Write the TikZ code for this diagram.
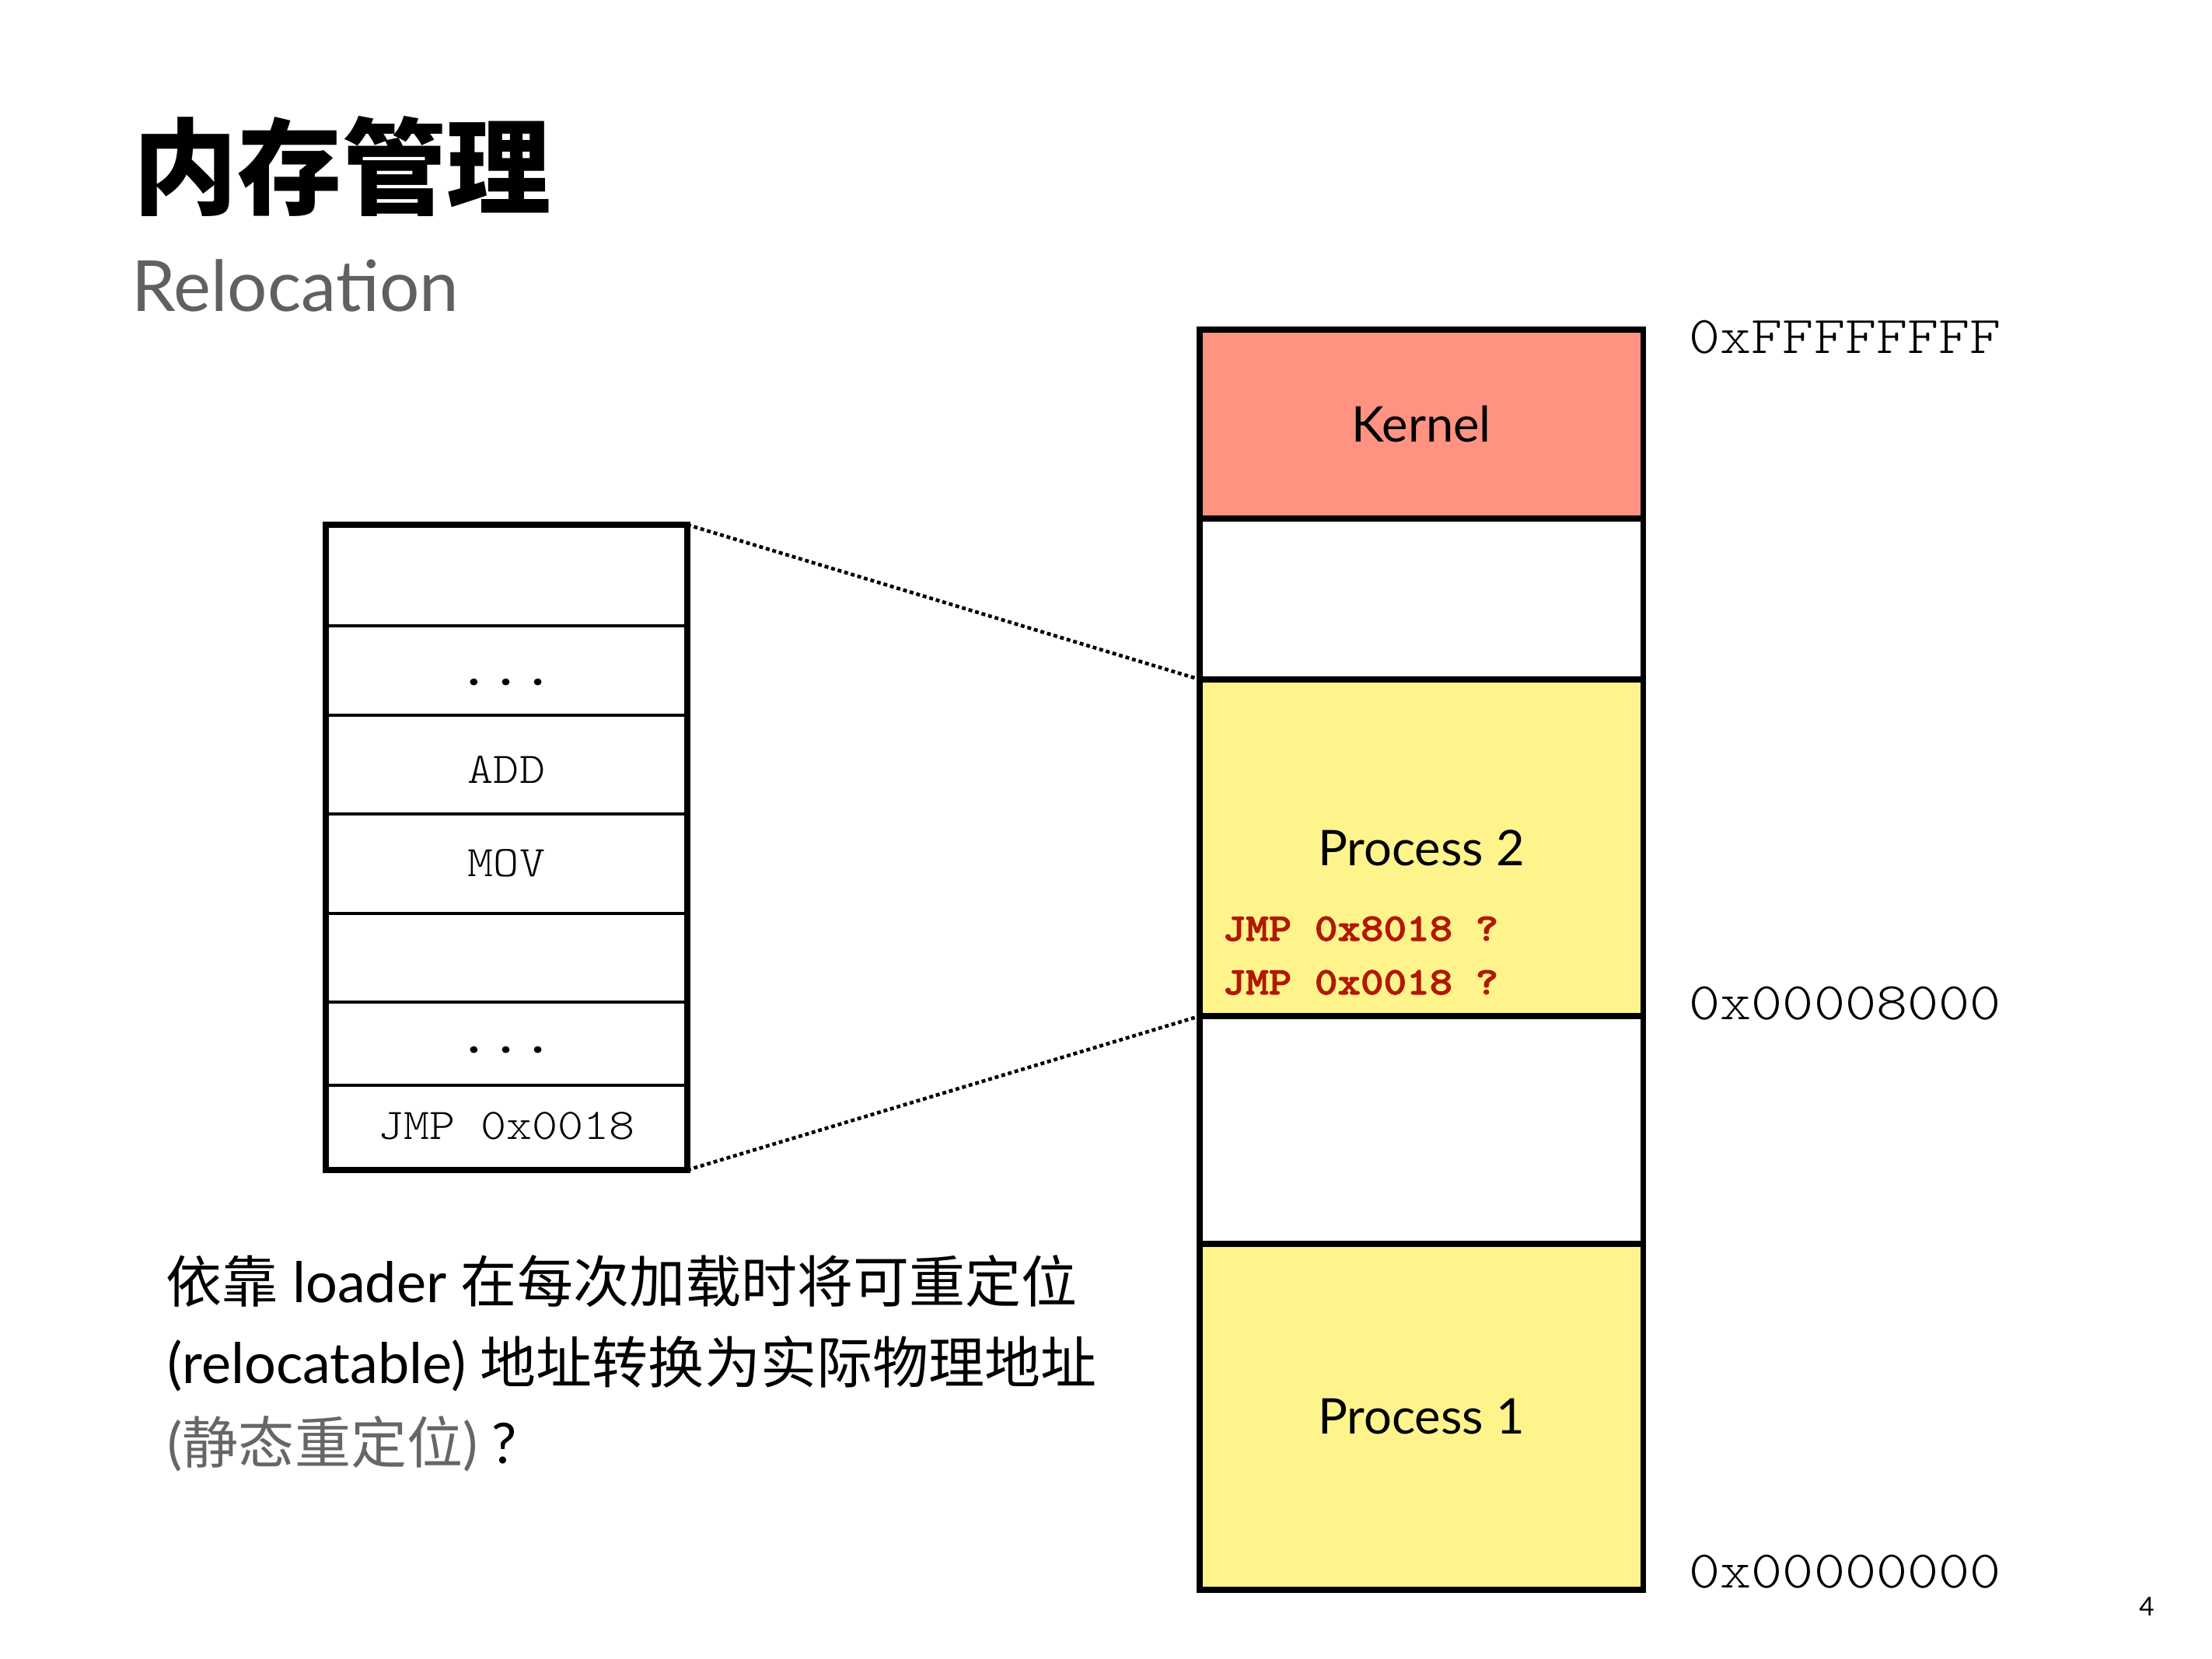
\documentclass[tikz,border=0pt]{standalone}
\usepackage{fontspec}
\setmainfont{Lato}
\newfontfamily\cjk{Noto Sans CJK SC}
\newfontfamily\ttlt{lmmonolt10-regular.otf}[FakeStretch=1.12]
\newfontfamily\ttbd{lmmonolt10-bold.otf}[FakeStretch=1.12]
\newfontfamily\ttred{lmmonolt10-bold.otf}[FakeStretch=1.12,FakeBold=2]
\definecolor{kernelc}{RGB}{255,146,128}
\definecolor{procc}{RGB}{255,244,140}
\definecolor{jmpred}{RGB}{178,24,0}
\definecolor{subgray}{RGB}{96,96,96}
\definecolor{notegray}{RGB}{102,102,102}
\begin{document}
\begin{tikzpicture}[x=1cm,y=1cm,
  memrow/.style={draw=black, line width=2pt, inner sep=0pt, outer sep=0pt, minimum width=5.70cm, font=\fontsize{18}{20}\selectfont},
  progrow/.style={draw=black, line width=1.3pt, inner sep=0pt, outer sep=0pt, minimum width=4.65cm},
  progtxt/.style={anchor=base, inner sep=0pt, font=\ttlt\fontsize{16}{18}\selectfont},
  addr/.style={anchor=base west, inner sep=0pt, font=\ttlt\fontsize{19.4}{22}\selectfont},
  jmp/.style={anchor=base west, inner sep=0pt, text=jmpred, font=\ttred\fontsize{14.3}{16}\selectfont},
  note/.style={anchor=base west, inner sep=0pt, font=\fontsize{20.5}{24}\selectfont},
  link/.style={line width=1.3pt, dash pattern=on 1.4pt off 1.1pt}
]
\fill[white] (0,0) rectangle (28.45,-21.34);
\useasboundingbox (0,0) rectangle (28.45,-21.34);

% title
\node[anchor=base west, inner sep=0pt, font=\cjk\bfseries\fontsize{38.2}{44}\selectfont] (title) at (1.71,-2.66) {内存管理};
\node[anchor=base west, inner sep=0pt, text=subgray, font=\fontsize{25.8}{30}\selectfont] (sub) at (1.69,-4.005) {Relocation};

% physical memory
\node[memrow, fill=kernelc, minimum height=2.43cm] (kernel) at (18.28,-5.455) {Kernel};
\node[memrow, fill=white, minimum height=2.07cm] (free1) at (18.28,-7.705) {};
\node[memrow, fill=procc, minimum height=4.33cm] (proc2) at (18.28,-10.905) {Process 2};
\node[memrow, fill=white, minimum height=2.93cm] (free2) at (18.28,-14.535) {};
\node[memrow, fill=procc, minimum height=4.45cm] (proc1) at (18.28,-18.225) {Process 1};

\node[jmp] (j1) at (15.72,-12.10) {JMP 0x8018 ?};
\node[jmp] (j2) at (15.72,-12.79) {JMP 0x0018 ?};

\node[addr] (aF) at (21.72,-4.55) {0xFFFFFFFF};
\node[addr] (a8) at (21.72,-13.11) {0x00008000};
\node[addr] (a0) at (21.72,-20.42) {0x00000000};

% program image
\node[progrow, minimum height=1.30cm] (r1) at (6.515,-7.40) {};
\node[progrow, minimum height=1.15cm] (r2) at (6.515,-8.625) {};
\node[progrow, minimum height=1.27cm] (r3) at (6.515,-9.835) {};
\node[progrow, minimum height=1.28cm] (r4) at (6.515,-11.11) {};
\node[progrow, minimum height=1.14cm] (r5) at (6.515,-12.32) {};
\node[progrow, minimum height=1.07cm] (r6) at (6.515,-13.425) {};
\node[progrow, minimum height=1.09cm] (r7) at (6.515,-14.505) {};
\node[draw=black, line width=2pt, inner sep=0pt, outer sep=0pt, minimum width=4.65cm, minimum height=8.30cm] (prog) at (6.515,-10.90) {};

\node[progtxt, font=\ttred\fontsize{16}{18}\selectfont] (dots1) at (6.505,-8.81) {.\kern2.3pt.\kern2.3pt.};
\node[progtxt] (add) at (6.515,-10.07) {ADD};
\node[progtxt] (mov) at (6.515,-11.27) {MOV};
\node[progtxt, font=\ttred\fontsize{16}{18}\selectfont] (dots2) at (6.505,-13.54) {.\kern2.3pt.\kern2.3pt.};
\node[progtxt] (jmp) at (6.515,-14.65) {JMP 0x0018};

% mapping
\draw[link] (prog.north east) -- (proc2.north west);
\draw[link] (prog.south east) -- (proc2.south west);

% note
\node[note] (n1) at (2.13,-16.75) {{\cjk 依靠} loader {\cjk 在每次加载时将可重定位}};
\node[note] (n2) at (2.15,-17.79) {(relocatable) {\cjk 地址转换为实际物理地址}};
\node[note] (n3) at (2.15,-18.82) {{\color{notegray}({\cjk 静态重定位})} ?};

\node[inner sep=0pt, font=\fontsize{9.5}{11}\selectfont] (pg) at (27.61,-20.67) {4};
\end{tikzpicture}
\end{document}
